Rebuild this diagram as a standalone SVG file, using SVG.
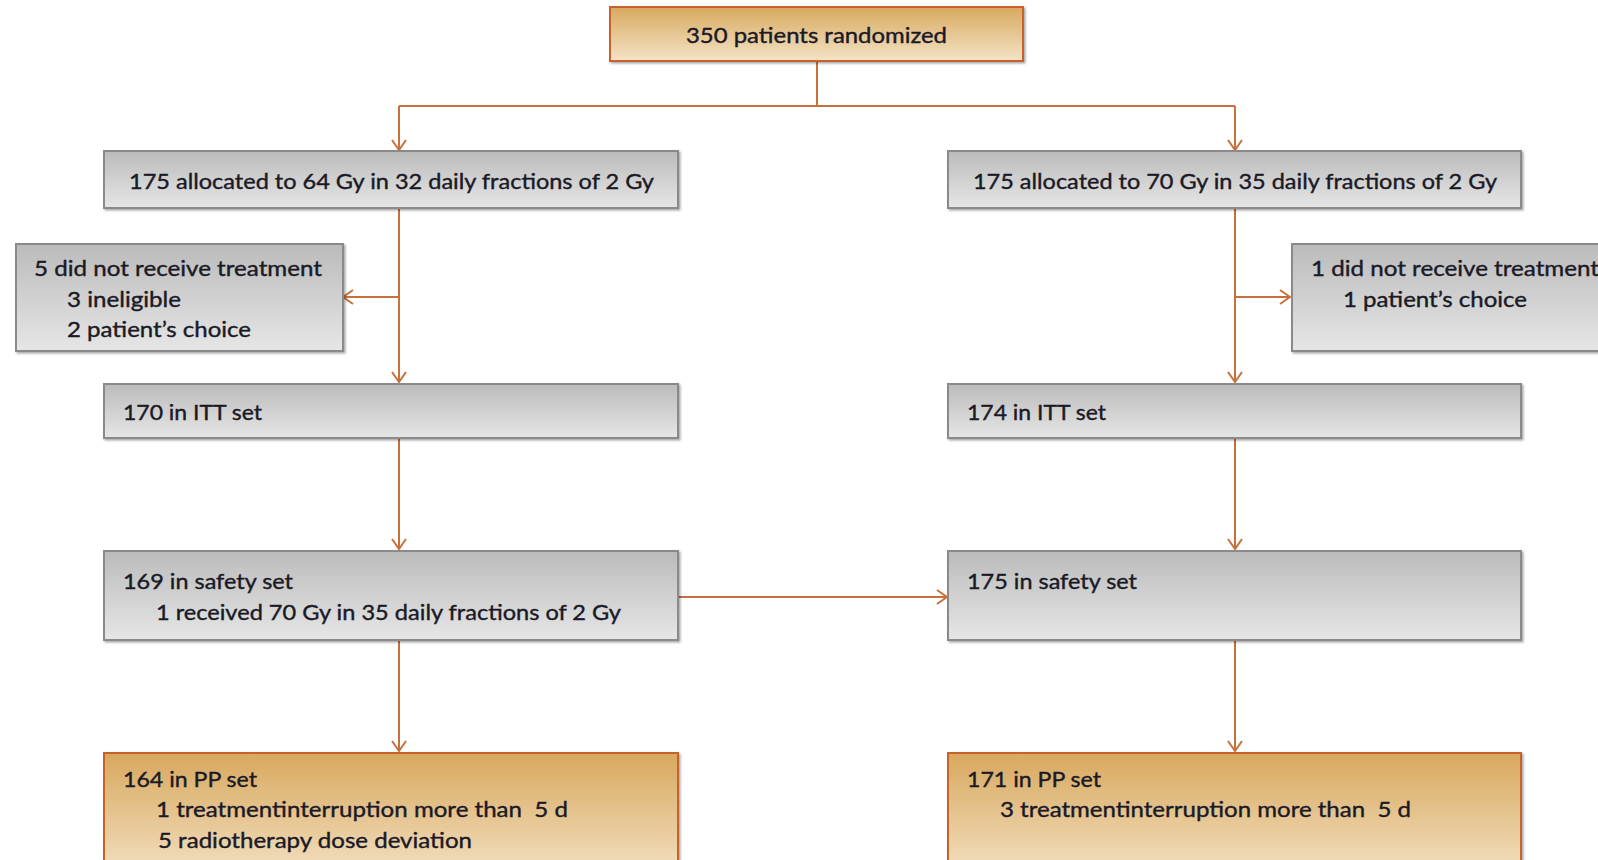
<svg xmlns="http://www.w3.org/2000/svg" width="1598" height="860" viewBox="0 0 1598 860">
<defs>
<linearGradient id="gOr" x1="0" y1="0" x2="0" y2="1"><stop offset="0" stop-color="#d9a95f"/><stop offset="1" stop-color="#f4e3c6"/></linearGradient>
<linearGradient id="gOr2" x1="0" y1="0" x2="0" y2="1"><stop offset="0" stop-color="#d8a85e"/><stop offset="1" stop-color="#f2dfbf"/></linearGradient>
<linearGradient id="gGr" x1="0" y1="0" x2="0" y2="1"><stop offset="0" stop-color="#bbbbbb"/><stop offset="1" stop-color="#e6e6e6"/></linearGradient>
<filter id="sh" x="-5%" y="-10%" width="110%" height="130%"><feDropShadow dx="1.5" dy="1.5" stdDeviation="1.2" flood-color="#000" flood-opacity="0.35"/></filter>
<marker id="arr" viewBox="0 0 12 16" refX="11" refY="8" markerWidth="12" markerHeight="16" markerUnits="userSpaceOnUse" orient="auto"><path d="M1,1 L11,8 L1,15" fill="none" stroke="#c8703c" stroke-width="2"/></marker>
</defs>
<style>
.or{fill:url(#gOr);stroke:#c8622c;stroke-width:2;filter:url(#sh)}
.or2{fill:url(#gOr2);stroke:#c8622c;stroke-width:2;filter:url(#sh)}
.gr{fill:url(#gGr);stroke:#8a8a8a;stroke-width:2;filter:url(#sh)}
text{font-family:Lato,"Liberation Sans",sans-serif;font-size:22px;fill:#1a1a26;stroke:#1a1a26;stroke-width:0.4;white-space:pre}
.c{stroke:#c8703c;stroke-width:2;fill:none}
.a{marker-end:url(#arr)}
</style>
<rect width="1598" height="860" fill="#fff"/>
<g id="connectors">
<path class="c" d="M817,61 V106"/>
<path class="c" d="M399,106 H1235"/>
<path class="c a" d="M399,106 V150"/>
<path class="c a" d="M1235,106 V150"/>
<path class="c a" d="M399,208 V382"/>
<path class="c a" d="M399,297 H343"/>
<path class="c a" d="M1235,208 V382"/>
<path class="c a" d="M1235,297 H1290"/>
<path class="c a" d="M399,438 V549"/>
<path class="c a" d="M1235,438 V549"/>
<path class="c a" d="M678,597 H947"/>
<path class="c a" d="M399,640 V751"/>
<path class="c a" d="M1235,640 V751"/>
</g>
<g id="n-randomized"><rect class="or" x="610" y="7" width="413" height="54"/><text x="686" y="43" textLength="261" lengthAdjust="spacingAndGlyphs">350 patients randomized</text></g>
<g id="n-alloc64"><rect class="gr" x="104" y="151" width="574" height="57"/><text x="129" y="189" textLength="525" lengthAdjust="spacingAndGlyphs">175 allocated to 64 Gy in 32 daily fractions of 2 Gy</text></g>
<g id="n-alloc70"><rect class="gr" x="948" y="151" width="573" height="57"/><text x="973" y="189" textLength="524" lengthAdjust="spacingAndGlyphs">175 allocated to 70 Gy in 35 daily fractions of 2 Gy</text></g>
<g id="n-excl-left"><rect class="gr" x="16" y="244" width="327" height="107"/>
<text x="34" y="276" textLength="288" lengthAdjust="spacingAndGlyphs">5 did not receive treatment</text>
<text x="67" y="307" textLength="114" lengthAdjust="spacingAndGlyphs">3 ineligible</text>
<text x="67" y="337" textLength="184" lengthAdjust="spacingAndGlyphs">2 patient’s choice</text></g>
<g id="n-excl-right"><rect class="gr" x="1292" y="244" width="320" height="107"/>
<text x="1311" y="276" textLength="288" lengthAdjust="spacingAndGlyphs">1 did not receive treatment</text>
<text x="1343" y="307" textLength="184" lengthAdjust="spacingAndGlyphs">1 patient’s choice</text></g>
<g id="n-itt-left"><rect class="gr" x="104" y="384" width="574" height="54"/><text x="123" y="420" textLength="139" lengthAdjust="spacingAndGlyphs">170 in ITT set</text></g>
<g id="n-itt-right"><rect class="gr" x="948" y="384" width="573" height="54"/><text x="967" y="420" textLength="139" lengthAdjust="spacingAndGlyphs">174 in ITT set</text></g>
<g id="n-safety-left"><rect class="gr" x="104" y="551" width="574" height="89"/>
<text x="123" y="589" textLength="170" lengthAdjust="spacingAndGlyphs">169 in safety set</text>
<text x="156" y="620" textLength="465" lengthAdjust="spacingAndGlyphs">1 received 70 Gy in 35 daily fractions of 2 Gy</text></g>
<g id="n-safety-right"><rect class="gr" x="948" y="551" width="573" height="89"/>
<text x="967" y="589" textLength="170" lengthAdjust="spacingAndGlyphs">175 in safety set</text></g>
<g id="n-pp-left"><rect class="or2" x="104" y="753" width="574" height="120"/>
<text x="123" y="787" textLength="134" lengthAdjust="spacingAndGlyphs">164 in PP set</text>
<text x="156" y="817" textLength="412" lengthAdjust="spacingAndGlyphs" xml:space="preserve">1 treatmentinterruption more than  5 d</text>
<text x="158" y="848" textLength="314" lengthAdjust="spacingAndGlyphs">5 radiotherapy dose deviation</text></g>
<g id="n-pp-right"><rect class="or2" x="948" y="753" width="573" height="120"/>
<text x="967" y="787" textLength="134" lengthAdjust="spacingAndGlyphs">171 in PP set</text>
<text x="1000" y="817" textLength="411" lengthAdjust="spacingAndGlyphs" xml:space="preserve">3 treatmentinterruption more than  5 d</text></g>
</svg>
